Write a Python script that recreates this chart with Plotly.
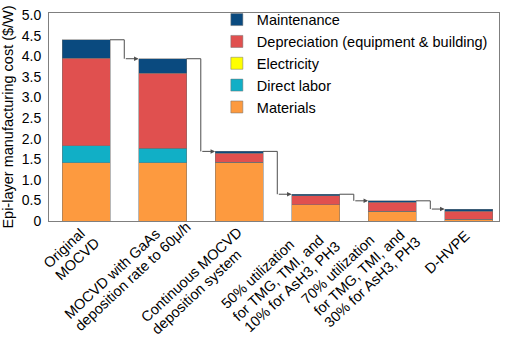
import math
import plotly.graph_objects as go

categories = [
    ["Original", "MOCVD"],
    ["MOCVD with GaAs", "deposition rate to 60μ/h"],
    ["Continuous MOCVD", "deposition system"],
    ["50% utilization", "for TMG, TMI, and", "10% for AsH3, PH3"],
    ["70% utilization", "for TMG, TMI, and", "30% for AsH3, PH3"],
    ["D-HVPE"],
]
materials = [1.41, 1.42, 1.43, 0.40, 0.24, 0.04]
direct_labor = [0.42, 0.35, 0.0, 0.0, 0.0, 0.0]
electricity = [0.0, 0.0, 0.0, 0.0, 0.0, 0.0]
depreciation = [2.12, 1.82, 0.21, 0.21, 0.21, 0.20]
maintenance = [0.45, 0.35, 0.05, 0.04, 0.04, 0.05]
y_tick_values = [0, 0.5, 1.0, 1.5, 2.0, 2.5, 3.0, 3.5, 4.0, 4.5, 5.0]
y_tick_labels = ["0", "0.5", "1.0", "1.5", "2.0", "2.5", "3.0", "3.5", "4.0", "4.5", "5.0"]

FONT = "Arial, Liberation Sans, sans-serif"
FS = 14.5
BAR_W = 0.627
CONN = "#4d4d4d"

# label layout: start of first line (px, relative to bar centre on the x axis line)
LABEL_START = [(-40, 44), (-96, 95), (-96, 99), (-92, 85), (-88, 80), (-41, 50)]
LABEL_ANGLE = 43
LINE_H = 16.5

# Arial advance widths (per 1000 em) used to place left-aligned rotated lines
ADV = {" ": 278, "%": 889, ",": 278, "-": 333, "/": 278, "μ": 576,
       "A": 667, "C": 722, "D": 722, "E": 667, "G": 778, "H": 722, "I": 278,
       "M": 833, "O": 778, "P": 667, "S": 667, "T": 611, "V": 667,
       "a": 556, "c": 500, "d": 556, "e": 556, "f": 278, "h": 556, "i": 222,
       "l": 222, "m": 833, "n": 556, "o": 556, "p": 556, "r": 333, "s": 500,
       "t": 278, "u": 556, "w": 722, "y": 500, "z": 500}


def text_width(s, size):
    return sum(ADV.get(ch, 556) for ch in s) * size / 1000.0


x = list(range(len(categories)))
series = [
    ("Materials", materials, "#fd9a3f"),
    ("Direct labor", direct_labor, "#11afc6"),
    ("Electricity", electricity, "#ffff00"),
    ("Depreciation (equipment & building)", depreciation, "#e0504f"),
    ("Maintenance", maintenance, "#0a4a7f"),
]

fig = go.Figure()
for name, vals, color in series:
    fig.add_trace(go.Bar(
        x=x, y=vals, name=name, width=BAR_W,
        marker=dict(color=color, line=dict(color="#707070", width=0.5)),
    ))

totals = [sum(v) for v in zip(materials, direct_labor, electricity, depreciation, maintenance)]

for i in range(len(x) - 1):
    fig.add_trace(go.Scatter(
        x=[x[i] + BAR_W / 2, x[i] + 0.5, x[i] + 0.5],
        y=[totals[i], totals[i], totals[i + 1]],
        mode="lines", line=dict(color=CONN, width=1),
        showlegend=False, hoverinfo="skip",
    ))
    fig.add_annotation(
        x=x[i + 1] - BAR_W / 2, y=totals[i + 1],
        ax=x[i] + 0.5, ay=totals[i + 1],
        xref="x", yref="y", axref="x", ayref="y",
        showarrow=True, arrowhead=2, arrowsize=0.9, arrowwidth=1,
        arrowcolor=CONN, text="", standoff=0,
    )

th = math.radians(LABEL_ANGLE)
d_x, d_y = math.cos(th), -math.sin(th)     # along the text (screen, y down)
p_x, p_y = math.sin(th), math.cos(th)      # to the next line
for i, lines in enumerate(categories):
    sx, sy = LABEL_START[i]
    for k, s in enumerate(lines):
        half = text_width(s, FS) / 2
        cx = sx + half * d_x + k * LINE_H * p_x
        cy = sy + half * d_y + k * LINE_H * p_y
        fig.add_annotation(
            x=x[i], y=0, xref="x", yref="paper", text=s, textangle=-LABEL_ANGLE,
            xanchor="center", yanchor="middle", showarrow=False,
            xshift=cx, yshift=-cy, borderpad=0,
            font=dict(family=FONT, size=FS, color="#000"),
        )

fig.update_layout(
    width=505, height=338,
    margin=dict(l=49, r=6, t=4, b=117),
    barmode="stack",
    plot_bgcolor="white", paper_bgcolor="white",
    font=dict(family=FONT, size=14, color="#000"),
    showlegend=True,
    legend=dict(
        x=0.373, y=1.045, xanchor="left", yanchor="top",
        traceorder="reversed", bgcolor="rgba(0,0,0,0)",
        font=dict(family=FONT, size=FS, color="#000"),
    ),
    xaxis=dict(
        range=[-0.484, 5.398], showticklabels=False, ticks="",
        showline=True, mirror=True, linecolor="#7f7f7f", linewidth=1,
        showgrid=False, zeroline=False,
    ),
    yaxis=dict(
        range=[0, 5.05], tickvals=y_tick_values, ticktext=y_tick_labels,
        ticks="", ticklabelstandoff=4, ticklabeloverflow="allow",
        showline=True, mirror=True, linecolor="#7f7f7f", linewidth=1,
        showgrid=False, zeroline=False,
        tickfont=dict(family=FONT, size=14, color="#000"),
        title=dict(text="Epi-layer manufacturing cost ($/W)", standoff=4,
                   font=dict(family=FONT, size=FS, color="#000")),
    ),
)

fig.write_html(
    "out.html",
    config={"displayModeBar": False},
    post_script="document.body.style.margin='0';document.body.style.overflow='hidden';",
)
